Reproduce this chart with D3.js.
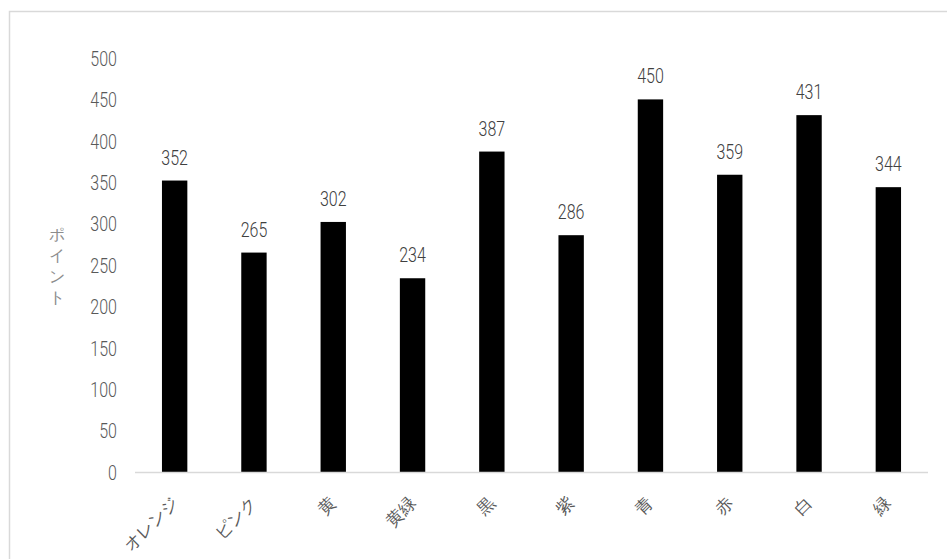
<!DOCTYPE html>
<html>
<head>
<meta charset="utf-8">
<script src="https://cdn.jsdelivr.net/npm/d3@7"></script>
<style>
  html, body { margin: 0; padding: 0; background: #fff; }
  svg text { font-family: Roboto, "Liberation Sans", sans-serif; }
</style>
</head>
<body>
<svg id="chart" width="947" height="559"></svg>
<script>
// Points per colour
const categories = ["オレンジ", "ピンク", "黄", "黄緑", "黒", "紫", "青", "赤", "白", "緑"];
const points = [352, 265, 302, 234, 387, 286, 450, 359, 431, 344];
const yTicks = [0, 50, 100, 150, 200, 250, 300, 350, 400, 450, 500];
const yTitle = "ポイント";

const svg = d3.select("#chart");
const W = 947, H = 559;
const margin = { left: 135, right: 19, top: 58, bottom: 87 };
const NARROW = 0.8; // horizontal squeeze for the tall, narrow numerals

svg.append("rect").attr("width", W).attr("height", H).attr("fill", "#fff");
// Chart area frame
svg.append("rect")
  .attr("x", 9.5).attr("y", 11.5)
  .attr("width", W).attr("height", H)
  .attr("fill", "none").attr("stroke", "#d9d9d9").attr("stroke-width", 1.5);

const x = d3.scaleBand().domain(categories)
  .range([margin.left, W - margin.right])
  .paddingInner(0.68).paddingOuter(0.34);
const y = d3.scaleLinear().domain([0, 500]).range([H - margin.bottom, margin.top]);

// Y axis labels (no line, no ticks)
const yAxis = svg.append("g")
  .attr("transform", `translate(${margin.left - 18},0)`)
  .call(d3.axisLeft(y).tickValues(yTicks).tickSize(0).tickPadding(0));
yAxis.select(".domain").remove();
yAxis.selectAll("text")
  .attr("fill", "#595959").attr("font-size", 20).attr("font-weight", 300)
  .attr("font-family", "Roboto, 'Liberation Sans', sans-serif")
  .attr("x", 0).attr("dy", "0.36em")
  .attr("text-anchor", "end")
  .attr("transform", `scale(${NARROW},1)`);

// Bars
svg.append("g").selectAll("rect")
  .data(points)
  .join("rect")
  .attr("x", (d, i) => x(categories[i]))
  .attr("y", d => y(d))
  .attr("width", x.bandwidth())
  .attr("height", d => y(0) - y(d))
  .attr("fill", "#000");

// Value labels
svg.append("g").selectAll("text")
  .data(points)
  .join("text")
  .attr("transform", (d, i) =>
    `translate(${x(categories[i]) + x.bandwidth() / 2},${y(d) - 16}) scale(${NARROW},1)`)
  .attr("text-anchor", "middle")
  .attr("fill", "#404040").attr("font-size", 20).attr("font-weight", 300)
  .text(d => d);

// X axis baseline and category labels
const xAxis = svg.append("g")
  .attr("transform", `translate(0,${y(0)})`)
  .call(d3.axisBottom(x).tickSize(0).tickPadding(0));
xAxis.select(".domain").attr("stroke", "#d9d9d9").attr("stroke-width", 1.5)
  .attr("d", `M${margin.left},0.5H${W - margin.right}`);
xAxis.selectAll(".tick text")
  .attr("fill", "#595959").attr("font-size", 17)
  .attr("font-family", "'Noto Sans CJK JP', sans-serif")
  .attr("font-weight", 300)
  .attr("text-anchor", "end")
  .attr("dy", 0).attr("y", 0)
  .attr("transform", "translate(4,32) rotate(-45)");

// Y axis title, stacked vertically
const title = svg.append("text")
  .attr("fill", "#8c8c8c").attr("font-size", 16)
  .attr("font-family", "'Noto Sans CJK JP', sans-serif")
  .attr("font-weight", 300)
  .attr("text-anchor", "middle");
title.selectAll("tspan")
  .data(Array.from(yTitle))
  .join("tspan")
  .attr("x", 57)
  .attr("y", (d, i) => 240 + i * 21)
  .text(d => d);
</script>
</body>
</html>
